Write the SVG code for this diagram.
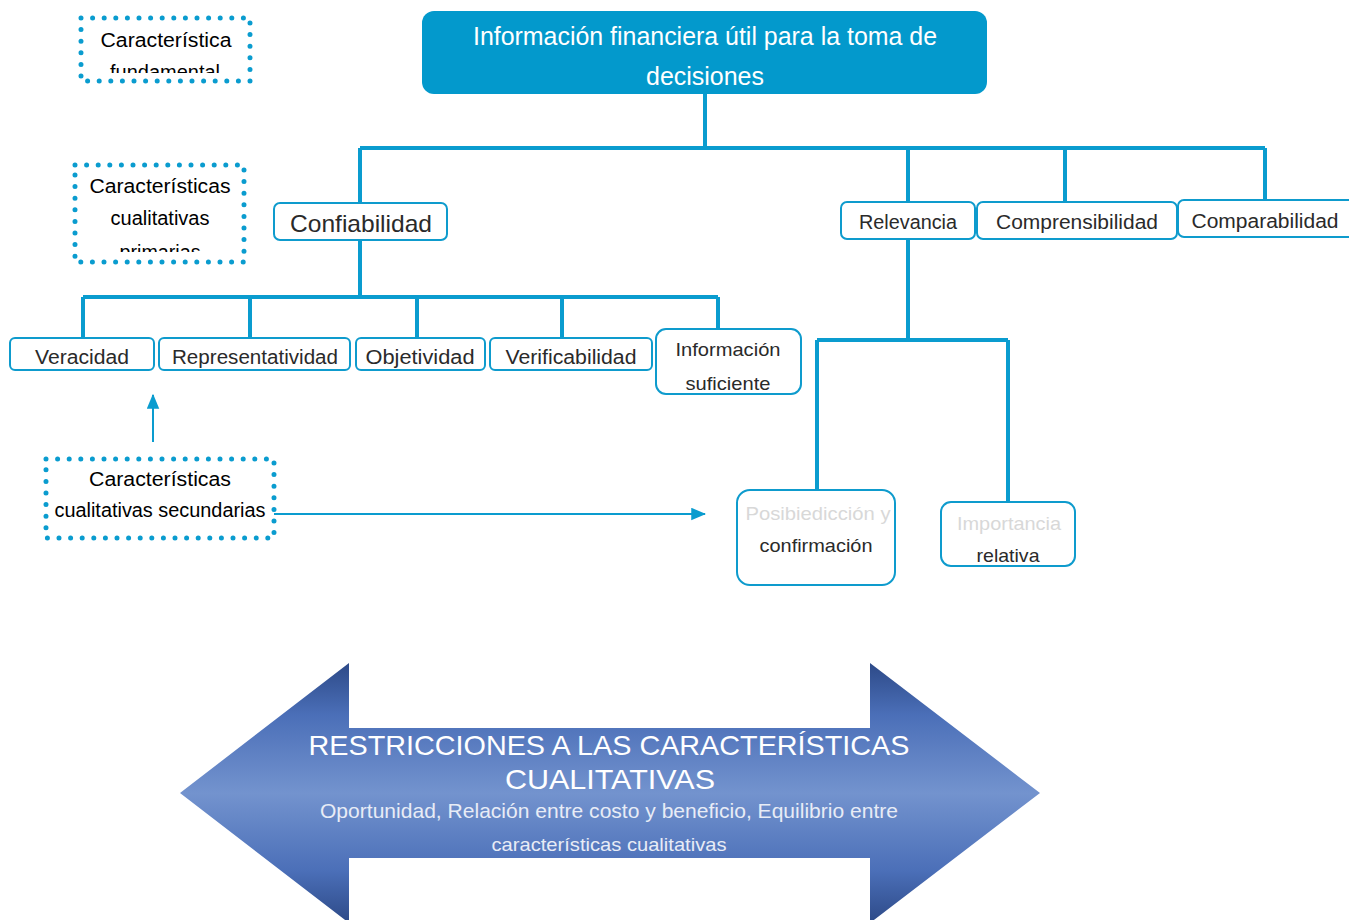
<svg xmlns="http://www.w3.org/2000/svg" width="1349" height="920" viewBox="0 0 1349 920">
  <style>
    .lbl { font-family: "Liberation Sans", Arial, sans-serif; fill: #2a2a2a; text-anchor: middle; }
    .note { font-family: "Liberation Sans", Arial, sans-serif; fill: #000; text-anchor: middle; }
    .box { fill: #fff; stroke: #0e9bcd; stroke-width: 2; }
    .dots { fill: none; stroke: #0a9ccf; stroke-width: 5; stroke-linecap: round; stroke-dasharray: 0 11.6; }
    .wire { fill: none; stroke: #0a9ccf; stroke-width: 4; }
    .thin { fill: none; stroke: #0a9ccf; stroke-width: 2; }
    .big { font-family: "Liberation Sans", Arial, sans-serif; fill: #fff; text-anchor: middle; }
  </style>
  <defs>
    <linearGradient id="arrowFill" gradientUnits="userSpaceOnUse" x1="0" y1="663" x2="0" y2="923">
      <stop offset="0" stop-color="#2d4a88"/>
      <stop offset="0.2" stop-color="#4b6fb8"/>
      <stop offset="0.5" stop-color="#7393ce"/>
      <stop offset="0.8" stop-color="#4b6fb8"/>
      <stop offset="1" stop-color="#2d4a88"/>
    </linearGradient>
    <marker id="tri" viewBox="0 0 12 10" refX="11" refY="5" markerWidth="7.5" markerHeight="6.5" orient="auto">
      <path d="M0,0 L12,5 L0,10 z" fill="#0a9ccf"/>
    </marker>
    <clipPath id="clipFund"><rect x="84" y="20" width="163" height="53"/></clipPath>
    <clipPath id="clipPrim"><rect x="78" y="167" width="163" height="85"/></clipPath>
  </defs>

  <!-- connectors -->
  <g id="connectors">
    <path class="wire" d="M705,94 V148 M360,148 H1265 M360,148 V203 M908,148 V202 M1065,148 V201 M1265,148 V201"/>
    <path class="wire" d="M360,240 V297 M83,297 H718 M83,297 V338 M250,297 V338 M417,297 V338 M562,297 V338 M718,297 V329"/>
    <path class="wire" d="M908,239 V340 M817,340 H1008 M817,340 V490 M1008,340 V502"/>
    <line class="thin" x1="153" y1="442" x2="153" y2="395" marker-end="url(#tri)"/>
    <line class="thin" x1="274" y1="514" x2="705" y2="514" marker-end="url(#tri)"/>
  </g>

  <!-- root -->
  <g id="root">
    <rect x="422" y="11" width="565" height="83" rx="12" fill="#0399cc"/>
    <text class="big" x="705" y="45" font-size="25" textLength="464" lengthAdjust="spacingAndGlyphs">Información financiera útil para la toma de</text>
    <text class="big" x="705" y="85" font-size="25" textLength="118" lengthAdjust="spacingAndGlyphs">decisiones</text>
  </g>

  <!-- legend boxes -->
  <g id="legend-fundamental">
    <rect class="dots" x="81" y="18" width="169" height="63"/>
    <text class="note" x="166" y="47" font-size="20" textLength="131" lengthAdjust="spacingAndGlyphs">Característica</text>
    <g clip-path="url(#clipFund)">
      <text class="note" x="165" y="79" font-size="20" textLength="110" lengthAdjust="spacingAndGlyphs">fundamental</text>
    </g>
  </g>
  <g id="legend-primarias">
    <rect class="dots" x="75" y="165" width="169" height="97"/>
    <text class="note" x="160" y="193" font-size="20" textLength="141" lengthAdjust="spacingAndGlyphs">Características</text>
    <text class="note" x="160" y="225" font-size="20" textLength="99" lengthAdjust="spacingAndGlyphs">cualitativas</text>
    <g clip-path="url(#clipPrim)">
      <text class="note" x="160" y="259" font-size="20" textLength="81" lengthAdjust="spacingAndGlyphs">primarias</text>
    </g>
  </g>
  <g id="legend-secundarias">
    <rect class="dots" x="46" y="459" width="228" height="79"/>
    <text class="note" x="160" y="486" font-size="20" textLength="142" lengthAdjust="spacingAndGlyphs">Características</text>
    <text class="note" x="160" y="517" font-size="20" textLength="211" lengthAdjust="spacingAndGlyphs">cualitativas secundarias</text>
  </g>

  <!-- primary characteristics -->
  <g id="confiabilidad">
    <rect class="box" x="274" y="203" width="173" height="37" rx="6"/>
    <text class="lbl" x="361" y="232" font-size="24" textLength="142" lengthAdjust="spacingAndGlyphs">Confiabilidad</text>
  </g>
  <g id="relevancia">
    <rect class="box" x="841" y="202" width="134" height="37" rx="6"/>
    <text class="lbl" x="908" y="229" font-size="20" textLength="98" lengthAdjust="spacingAndGlyphs">Relevancia</text>
  </g>
  <g id="comprensibilidad">
    <rect class="box" x="977" y="202" width="200" height="37" rx="6"/>
    <text class="lbl" x="1077" y="229" font-size="20" textLength="162" lengthAdjust="spacingAndGlyphs">Comprensibilidad</text>
  </g>
  <g id="comparabilidad">
    <rect class="box" x="1178" y="200" width="180" height="37" rx="6"/>
    <text class="lbl" x="1265" y="228" font-size="20" textLength="147" lengthAdjust="spacingAndGlyphs">Comparabilidad</text>
  </g>

  <!-- secondary characteristics under Confiabilidad -->
  <g id="veracidad">
    <rect class="box" x="10" y="338" width="144" height="32" rx="5"/>
    <text class="lbl" x="82" y="364" font-size="20" textLength="94" lengthAdjust="spacingAndGlyphs">Veracidad</text>
  </g>
  <g id="representatividad">
    <rect class="box" x="159" y="338" width="191" height="32" rx="5"/>
    <text class="lbl" x="255" y="364" font-size="20" textLength="166" lengthAdjust="spacingAndGlyphs">Representatividad</text>
  </g>
  <g id="objetividad">
    <rect class="box" x="356" y="338" width="129" height="32" rx="5"/>
    <text class="lbl" x="420" y="364" font-size="20" textLength="109" lengthAdjust="spacingAndGlyphs">Objetividad</text>
  </g>
  <g id="verificabilidad">
    <rect class="box" x="490" y="338" width="162" height="32" rx="5"/>
    <text class="lbl" x="571" y="364" font-size="20" textLength="131" lengthAdjust="spacingAndGlyphs">Verificabilidad</text>
  </g>
  <g id="informacion-suficiente">
    <rect class="box" x="656" y="329" width="145" height="65" rx="10"/>
    <text class="lbl" x="728" y="356" font-size="19" textLength="105" lengthAdjust="spacingAndGlyphs">Información</text>
    <text class="lbl" x="728" y="390" font-size="19" textLength="85" lengthAdjust="spacingAndGlyphs">suficiente</text>
  </g>

  <!-- secondary characteristics under Relevancia -->
  <g id="posibilidad-prediccion">
    <rect class="box" x="737" y="490" width="158" height="95" rx="13"/>
    <text class="lbl" x="818" y="520" font-size="19" style="fill:#d8d8d8" textLength="145" lengthAdjust="spacingAndGlyphs">Posibiedicción y</text>
    <text class="lbl" x="816" y="552" font-size="19" textLength="113" lengthAdjust="spacingAndGlyphs">confirmación</text>
  </g>
  <g id="importancia-relativa">
    <rect class="box" x="941" y="502" width="134" height="64" rx="10"/>
    <text class="lbl" x="1009" y="530" font-size="19" style="fill:#d8d8d8" textLength="104" lengthAdjust="spacingAndGlyphs">Importancia</text>
    <text class="lbl" x="1008" y="562" font-size="19" textLength="63" lengthAdjust="spacingAndGlyphs">relativa</text>
  </g>

  <!-- constraints double arrow -->
  <g id="restricciones">
    <polygon points="180,793 349,663 349,728 870,728 870,663 1040,793 870,923 870,858 349,858 349,923" fill="url(#arrowFill)"/>
    <text class="big" x="609" y="755" font-size="28" textLength="601" lengthAdjust="spacingAndGlyphs">RESTRICCIONES A LAS CARACTERÍSTICAS</text>
    <text class="big" x="610" y="789" font-size="28" textLength="210" lengthAdjust="spacingAndGlyphs">CUALITATIVAS</text>
    <text class="big" x="609" y="818" font-size="21" style="fill:#e8ecf6" textLength="578" lengthAdjust="spacingAndGlyphs">Oportunidad, Relación entre costo y beneficio, Equilibrio entre</text>
    <text class="big" x="609" y="851" font-size="19" style="fill:#e8ecf6" textLength="235" lengthAdjust="spacingAndGlyphs">características cualitativas</text>
  </g>
</svg>
